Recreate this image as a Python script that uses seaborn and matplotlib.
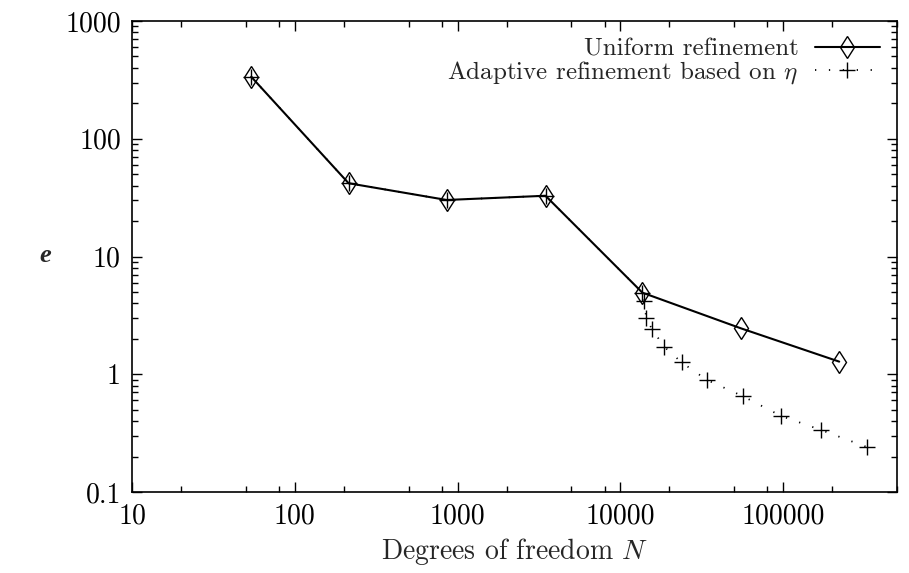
import pandas as pd
import matplotlib
matplotlib.use("Agg")
import matplotlib.pyplot as plt
import matplotlib.ticker as mticker
import seaborn as sns

# data
uniform_dof = [54, 214, 857, 3467, 13650, 55200, 220800]
uniform_err = [336, 41.9, 30.2, 32.8, 4.93, 2.45, 1.28]

adaptive_dof = [54, 214, 857, 3467, 13650, 14040, 14390, 15640, 18600, 23770,
                34040, 56250, 97200, 171000, 329000]
adaptive_err = [336, 41.9, 30.2, 32.8, 4.93, 4.21, 3.02, 2.41, 1.71, 1.26,
                0.893, 0.653, 0.442, 0.336, 0.240]

df_uni = pd.DataFrame({"N": uniform_dof, "e": uniform_err})
df_ada = pd.DataFrame({"N": adaptive_dof, "e": adaptive_err})

sns.set_style("ticks")
plt.rcParams["font.family"] = "serif"
plt.rcParams["font.serif"] = ["cmr10", "DejaVu Serif"]
plt.rcParams["mathtext.fontset"] = "cm"
plt.rcParams["axes.formatter.use_mathtext"] = True
plt.rcParams["font.size"] = 20

fig = plt.figure(figsize=(9.09, 5.73), dpi=100)
ax = fig.add_axes([132 / 909, 1 - 492 / 573, (897 - 132) / 909, (492 - 21) / 573])

sns.lineplot(data=df_uni, x="N", y="e", ax=ax, color="black", lw=1.5,
             marker="d", markersize=11.5, markerfacecolor="none",
             markeredgecolor="black", markeredgewidth=1.0,
             label="Uniform refinement", sort=False)
sns.lineplot(data=df_ada, x="N", y="e", ax=ax, color="black", lw=1.3,
             linestyle=(0, (0.7, 7)), marker="+", markersize=12,
             markeredgecolor="black", markeredgewidth=1.0,
             label=r"Adaptive refinement based on $\eta$", sort=False)

ax.set_xscale("log")
ax.set_yscale("log")
ax.set_xlim(10, 5e5)
ax.set_ylim(0.1, 1000)

fmt = mticker.FuncFormatter(lambda v, p: f"{v:g}")
ax.xaxis.set_major_locator(mticker.LogLocator(base=10, numticks=10))
ax.xaxis.set_minor_locator(mticker.LogLocator(base=10, subs=[2, 5, 8], numticks=20))
ax.yaxis.set_major_locator(mticker.LogLocator(base=10, numticks=10))
ax.yaxis.set_minor_locator(mticker.LogLocator(base=10, subs=range(2, 10), numticks=20))
ax.xaxis.set_major_formatter(fmt)
ax.yaxis.set_major_formatter(fmt)
ax.xaxis.set_minor_formatter(mticker.NullFormatter())
ax.yaxis.set_minor_formatter(mticker.NullFormatter())

ax.tick_params(which="both", direction="in", top=True, right=True, width=1.0,
               labelsize=20, colors="black")
ax.tick_params(which="major", length=7, pad=8)
ax.tick_params(which="minor", length=4)
for s in ax.spines.values():
    s.set_linewidth(1.2)
    s.set_color("black")

ax.set_xlabel(r"Degrees of freedom $N$", fontsize=20, labelpad=5)
ax.set_ylabel("")
fig.text(45 / 909, 1 - 256 / 573, "e", fontsize=19, fontstyle="italic",
         fontweight="bold", family="Liberation Serif", ha="center", va="center")

# gnuplot-style key: text right-aligned, sample on the right
ax.legend(loc="upper right", frameon=False, markerfirst=False,
          handlelength=2.6, handletextpad=0.65, borderaxespad=0.3,
          labelspacing=-0.05, fontsize=18)

fig.savefig("out.png", dpi=100)
